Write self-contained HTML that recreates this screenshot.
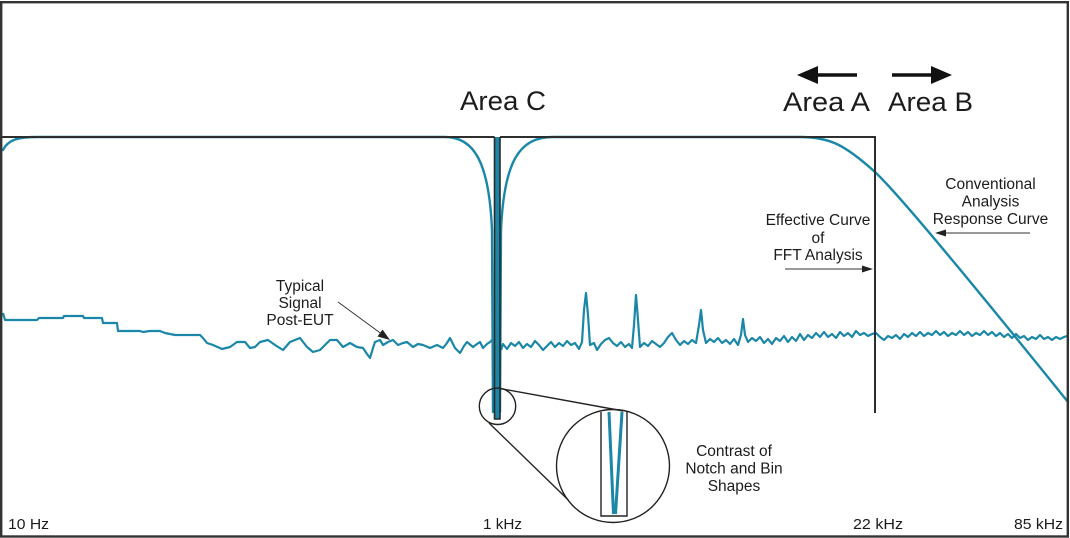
<!DOCTYPE html>
<html>
<head>
<meta charset="utf-8">
<style>
  html, body { margin:0; padding:0; background:#fff; }
  svg { display:block; }
  text { font-family: "Liberation Sans", Arial, sans-serif; fill:#1c1c1c; }
</style>
</head>
<body>
<svg width="1070" height="538" viewBox="0 0 1070 538" xmlns="http://www.w3.org/2000/svg">
  <rect x="0" y="0" width="1070" height="538" fill="#ffffff"/>

  <!-- teal response curves (conventional) -->
  <g fill="none" stroke="#1a87a8" stroke-width="2.4" stroke-linejoin="round" stroke-linecap="round">
    <path d="M3,150 C8,140 17,137 38,137 L445,137 C473,137 489,160 492,230 L493,412"/>
    <path d="M500,412 L501,230 C504,160 520,137 553,137 L800,137 C830,137 845,145 875,172 C905,200 1010,330 1068,402"/>
  </g>

  <!-- signal noise -->
  <g fill="none" stroke="#1a87a8" stroke-width="2.2" stroke-linejoin="round">
    <path d="M3,313 L5,320 L37,320 L39,318 L63,318 L64,316 L83,316 L84,318 L102,318 L103,323 L117,323 L118,331 L140,331 L143,332 L150,331 L160,331 L165,333 L175,335 L200,335 L203,338 L207,343 L213,345 L222,349 L230,347 L237,342 L245,342 L250,348 L255,347 L260,342 L268,340 L275,345 L283,350 L290,342 L300,338 L307,347 L313,352 L320,350 L325,345 L330,340 L337,340 L343,347 L350,343 L357,347 L363,348 L367,354 L370,358 L373,348 L375,342 L380,340 L383,345 L388,342 L393,340 L398,345 L403,343 L407,342 L413,347 L418,344 L423,345 L430,348 L437,345 L443,348 L447,343 L450,338 L455,348 L460,353 L464,346 L467,342 L473,347 L477,344 L480,342 L483,348 L487,344 L490,342 L492,340"/>
    <path d="M501,350 L503,344 L507,349 L511,343 L515,346 L519,342 L523,348 L527,344 L531,347 L535,341 L539,345 L543,350 L547,346 L551,342 L555,347 L559,343 L563,346 L567,341 L571,345 L575,343 L579,349 L582,342 L584,310 L586,293 L588,315 L590,345 L594,343 L597,350 L601,344 L605,340 L609,338 L613,343 L617,346 L621,342 L625,347 L629,344 L632,348 L634,325 L636,295 L638,320 L640,347 L644,343 L648,346 L652,341 L656,344 L660,347 L664,343 L668,337 L672,333 L676,340 L680,345 L684,341 L688,344 L692,340 L696,343 L699,325 L701,310 L703,330 L706,343 L710,339 L714,342 L718,338 L722,343 L726,340 L730,344 L734,339 L738,345 L741,335 L743,319 L745,335 L748,342 L752,338 L756,341 L760,337 L764,343 L768,339 L772,344 L776,338 L780,341 L784,336 L788,342 L792,337 L796,341 L800,334 L804,340 L808,335 L812,338 L816,333 L820,337 L824,332 L828,337 L832,334 L836,338 L840,332 L844,336 L848,333 L852,337 L856,331 L860,335 L864,333 L868,336 L872,334 L876,333 L880,337 L884,340 L888,336 L892,338 L896,335 L900,339 L904,334 L908,337 L912,333 L916,336 L920,332 L924,336 L928,333 L932,335 L936,331 L940,335 L944,332 L948,336 L952,333 L956,335 L960,331 L964,335 L968,332 L972,336 L976,333 L980,335 L984,331 L988,335 L992,332 L996,336 L1000,333 L1004,337 L1008,334 L1012,338 L1016,334 L1020,338 L1024,336 L1028,340 L1032,337 L1036,339 L1040,335 L1044,339 L1048,337 L1052,340 L1056,337 L1060,339 L1064,337 L1067,336"/>
  </g>

  <!-- notch bar -->
  <rect x="494.5" y="137" width="5.5" height="282" fill="#1a87a8"/>
  <path d="M494.5,137 L494.5,419 L500,419 L500,137" fill="none" stroke="#2a2a2a" stroke-width="1.6"/>

  <!-- effective curve (FFT) box -->
  <g fill="none" stroke="#2e2e2e" stroke-width="2">
    <path d="M2,137 L494.5,137"/>
    <path d="M500,137 L875,137 L875,413"/>
  </g>

  <!-- magnifier -->
  <g fill="none" stroke="#222" stroke-width="1.4">
    <circle cx="497.5" cy="406.3" r="18.2"/>
    <circle cx="613" cy="466" r="56.5"/>
    <line x1="498.3" y1="388.2" x2="623.3" y2="411"/>
    <line x1="489" y1="423" x2="568.3" y2="500"/>
    <path d="M601,412 L601,516 L627,516 L627,411"/>
  </g>
  <g fill="none" stroke="#1a87a8" stroke-width="3" stroke-linecap="butt">
    <line x1="609" y1="412" x2="613.5" y2="514"/>
    <line x1="622" y1="412" x2="615.5" y2="514"/>
  </g>

  <!-- Area arrows -->
  <line x1="815" y1="75" x2="857" y2="75" stroke="#111" stroke-width="3.5"/>
  <polygon points="797,75 818,66 818,84" fill="#111"/>
  <line x1="892" y1="75" x2="934" y2="75" stroke="#111" stroke-width="3.5"/>
  <polygon points="952,75 931,66 931,84" fill="#111"/>

  <!-- thin annotation arrows -->
  <line x1="785" y1="269" x2="864" y2="269" stroke="#333" stroke-width="1"/>
  <polygon points="873,269 862,265.5 862,272.5" fill="#222"/>
  <line x1="1030" y1="233" x2="944" y2="233" stroke="#333" stroke-width="1"/>
  <polygon points="935,233 946,229.5 946,236.5" fill="#222"/>
  <line x1="338" y1="302" x2="381" y2="333.5" stroke="#333" stroke-width="1"/>
  <polygon points="390,340 377.5,336.5 382.5,329.5" fill="#222"/>

  <!-- big labels -->
  <text x="460" y="110" font-size="27" textLength="86" lengthAdjust="spacingAndGlyphs">Area C</text>
  <text x="783" y="111" font-size="27" textLength="87" lengthAdjust="spacingAndGlyphs">Area A</text>
  <text x="888" y="111" font-size="27" textLength="85" lengthAdjust="spacingAndGlyphs">Area B</text>

  <!-- small labels -->
  <g font-size="15.5" text-anchor="middle">
    <text x="300" y="291">Typical</text>
    <text x="300" y="308">Signal</text>
    <text x="300" y="325">Post-EUT</text>

    <text x="818" y="225">Effective Curve</text>
    <text x="818" y="243">of</text>
    <text x="818" y="260">FFT Analysis</text>

    <text x="990.5" y="189">Conventional</text>
    <text x="990.5" y="206.5">Analysis</text>
    <text x="990.5" y="224">Response Curve</text>

    <text x="734" y="456">Contrast of</text>
    <text x="734" y="473.5">Notch and Bin</text>
    <text x="734" y="491">Shapes</text>
  </g>

  <!-- axis labels -->
  <g font-size="15">
    <text x="8" y="529" textLength="41" lengthAdjust="spacingAndGlyphs">10 Hz</text>
    <text x="483" y="529" textLength="39" lengthAdjust="spacingAndGlyphs">1 kHz</text>
    <text x="853" y="529" textLength="50" lengthAdjust="spacingAndGlyphs">22 kHz</text>
    <text x="1014" y="529" textLength="49" lengthAdjust="spacingAndGlyphs">85 kHz</text>
  </g>

  <!-- outer frame -->
  <rect x="1.2" y="2.2" width="1066.6" height="534.3" fill="none" stroke="#333" stroke-width="2.4"/>
</svg>
</body>
</html>
